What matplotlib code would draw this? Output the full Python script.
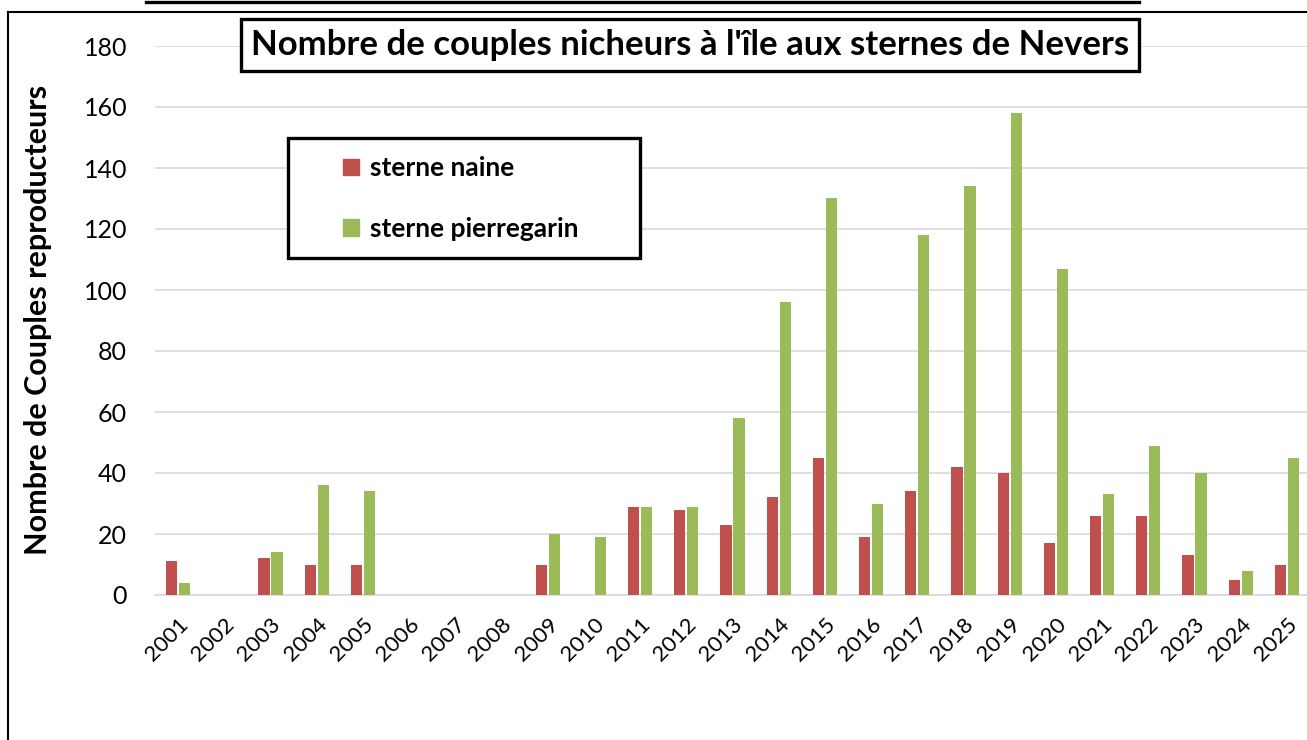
import numpy as np
import matplotlib
matplotlib.use("Agg")
import matplotlib.pyplot as plt
from matplotlib.patches import Patch, Rectangle
from matplotlib.lines import Line2D

# data
years = [str(y) for y in range(2001, 2026)]
naine = [11, 0, 12, 10, 10, 0, 0, 0, 10, 0, 29, 28, 23, 32, 45,
         19, 34, 42, 40, 17, 26, 26, 13, 5, 10]
pierregarin = [4, 0, 14, 36, 34, 0, 0, 0, 20, 19, 29, 29, 58, 96, 130,
               30, 118, 134, 158, 107, 33, 49, 40, 8, 45]
yticks = list(range(0, 181, 20))

RED = "#C0504D"
GREEN = "#9BBB59"
FONT = "Lato"

W, H = 1307, 740
fig = plt.figure(figsize=(W / 100, H / 100), dpi=100)

def fx(px):
    return px / W

def fy(py):
    return 1 - py / H

ax = fig.add_axes([fx(155), fy(595), fx(1310) - fx(155), fy(46) - fy(595)])

x = np.arange(len(years))
bw = 0.24
ax.bar(x - 0.14, naine, bw, color=RED, zorder=3)
ax.bar(x + 0.14, pierregarin, bw, color=GREEN, zorder=3)

ax.set_xlim(-0.5, len(years) - 0.5)
ax.set_ylim(0, 180)
ax.set_yticks(yticks)
ax.set_yticklabels([str(v) for v in yticks], fontsize=18, family=FONT)
ax.set_xticks(x)
ax.set_xticklabels(years, rotation=45, ha="right", rotation_mode="anchor",
                   fontsize=16, family=FONT)
ax.tick_params(length=0)
ax.tick_params(axis="y", pad=20)
ax.tick_params(axis="x", pad=14)
ax.grid(axis="y", color="#d9d9d9", linewidth=1.2, zorder=0)
for s in ["top", "right", "left"]:
    ax.spines[s].set_visible(False)
ax.spines["bottom"].set_color("#d9d9d9")
ax.spines["bottom"].set_linewidth(1.2)

ax.set_ylabel("Nombre de Couples reproducteurs", fontsize=22, fontweight="bold",
              family=FONT)
ax.yaxis.set_label_coords((52 - 155) / (1310 - 155), (595 - 320) / (595 - 46))

# title box
fig.text(fx(690), fy(45), "Nombre de couples nicheurs à l'île aux sternes de Nevers",
         ha="center", va="center", fontsize=25, fontweight="bold", family=FONT,
         bbox=dict(boxstyle="square,pad=0.28", facecolor="white",
                   edgecolor="black", linewidth=2.4))

# legend
fig.add_artist(Rectangle((fx(288), fy(258)), fx(640) - fx(288), fy(138) - fy(258),
                         transform=fig.transFigure, facecolor="white",
                         edgecolor="black", linewidth=2.4, zorder=4))
handles = [Patch(color=RED, label="sterne naine"),
           Patch(color=GREEN, label="sterne pierregarin")]
leg = fig.legend(handles=handles, loc="upper left",
                 bbox_to_anchor=(fx(330), fy(143)), frameon=False,
                 prop=dict(family=FONT, weight="bold", size=19),
                 handlelength=0.6, handleheight=0.6, handletextpad=0.4,
                 labelspacing=1.4, borderpad=0)
leg.set_zorder(5)

# outer borders of the screenshot
fig.add_artist(Line2D([fx(8), fx(8)], [0, fy(12)], color="black", linewidth=1.5))
fig.add_artist(Line2D([fx(8), 1], [fy(12), fy(12)], color="black", linewidth=1.5))
fig.add_artist(Line2D([fx(146), fx(1139)], [fy(1.5), fy(1.5)], color="black",
                      linewidth=2.4))

fig.savefig("out.png", dpi=100)
